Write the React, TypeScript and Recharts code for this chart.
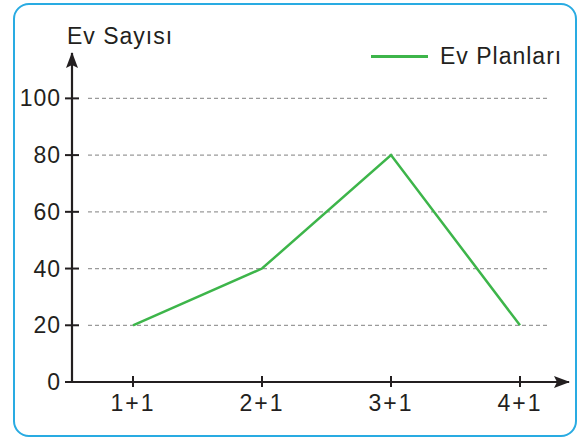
import React from 'react'
import { LineChart, Line, XAxis, YAxis, CartesianGrid, Legend } from 'recharts'

// room types and how many houses of each
const categories = ['1+1', '2+1', '3+1', '4+1']
const evSayisi = [20, 40, 80, 20]
const yTicks = [0, 20, 40, 60, 80, 100]

const seriesName = 'Ev Planları'
const yLabel = 'Ev Sayısı'

const data = categories.map((c, i) => ({ plan: c, ev: evSayisi[i] }))

const ink = '#231f20'
const green = '#3db54a'
const font = '"Liberation Sans", Arial, sans-serif'

const YTick = (props: any) => {
  const { x, y, payload } = props
  return (
    <g>
      <line x1={x - 7} x2={x + 7} y1={y} y2={y} stroke={ink} strokeWidth={2} />
      <text x={x - 11} y={y} textAnchor="end" dominantBaseline="central" fontSize={23} fill={ink} fontFamily={font} letterSpacing={1}>
        {payload.value}
      </text>
    </g>
  )
}

const XTick = (props: any) => {
  const { x, y, payload } = props
  return (
    <g>
      <line x1={x} x2={x} y1={y - 6} y2={y + 5} stroke={ink} strokeWidth={2} />
      <text x={x} y={y + 29} textAnchor="middle" fontSize={23} fill={ink} fontFamily={font} letterSpacing={2}>
        {payload.value}
      </text>
    </g>
  )
}

const LegendBox = (props: any) => {
  const item = props.payload?.[0]
  return (
    <div style={{ display: 'flex', alignItems: 'center', fontFamily: font, fontSize: 23, color: ink, letterSpacing: 1 }}>
      <div style={{ width: 57, height: 3, background: item?.color || green, marginRight: 12 }} />
      <span>{item?.value}</span>
    </div>
  )
}

const YLabel = (props: any) => {
  const { viewBox } = props
  const ax = viewBox.x + viewBox.width
  return (
    <text x={ax - 5} y={viewBox.y - 9} fontSize={23} fill={ink} fontFamily={font} letterSpacing={1}>
      {yLabel}
    </text>
  )
}

export default function App() {
  return (
    <div style={{ position: 'absolute', left: 0, top: 0, width: 582, height: 441, background: '#fff' }}>
      <svg width={0} height={0} style={{ position: 'absolute' }}>
        <defs>
          <marker id="arrowEnd" viewBox="0 0 16 12" refX={15} refY={6} markerWidth={16} markerHeight={12} markerUnits="userSpaceOnUse" orient="auto">
            <path d="M0,0 L16,6 L0,12 L3,6 Z" fill={ink} />
          </marker>
          <marker id="arrowStart" viewBox="0 0 16 12" refX={15} refY={6} markerWidth={16} markerHeight={12} markerUnits="userSpaceOnUse" orient="auto-start-reverse">
            <path d="M0,0 L16,6 L0,12 L3,6 Z" fill={ink} />
          </marker>
        </defs>
      </svg>
      <div
        style={{
          position: 'absolute',
          left: 13,
          top: 3,
          width: 560,
          height: 430,
          border: '2px solid #29abe2',
          borderRadius: 16,
        }}
      />
      <div style={{ position: 'absolute', left: 0, top: 0 }}>
        <LineChart width={582} height={441} data={data} margin={{ top: 53, right: 13, left: 12, bottom: 19 }}>
          <CartesianGrid
            horizontal
            vertical={false}
            syncWithTicks
            x={88}
            width={460}
            stroke="#9a9a9a"
            strokeDasharray="4 3"
            strokeWidth={1.2}
          />
          <XAxis
            dataKey="plan"
            scale="point"
            padding={{ left: 61, right: 49 }}
            height={40}
            axisLine={{ stroke: ink, strokeWidth: 2.2, markerEnd: 'url(#arrowEnd)' }}
            tickLine={false}
            tickSize={0}
            tickMargin={0}
            tick={<XTick />}
            interval={0}
          />
          <YAxis
            type="number"
            domain={[0, 116]}
            ticks={yTicks}
            width={60}
            axisLine={{ stroke: ink, strokeWidth: 2.2, markerStart: 'url(#arrowStart)' }}
            tickLine={false}
            tickSize={0}
            tickMargin={0}
            tick={<YTick />}
            interval={0}
            label={<YLabel />}
          />
          <Legend
            layout="horizontal"
            verticalAlign="middle"
            align="center"
            content={<LegendBox />}
            wrapperStyle={{ position: 'absolute', left: 371, top: 43, width: 200 }}
          />
          <Line
            type="linear"
            dataKey="ev"
            name={seriesName}
            stroke={green}
            strokeWidth={2.5}
            dot={false}
            activeDot={false}
            isAnimationActive={false}
          />
        </LineChart>
      </div>
    </div>
  )
}
